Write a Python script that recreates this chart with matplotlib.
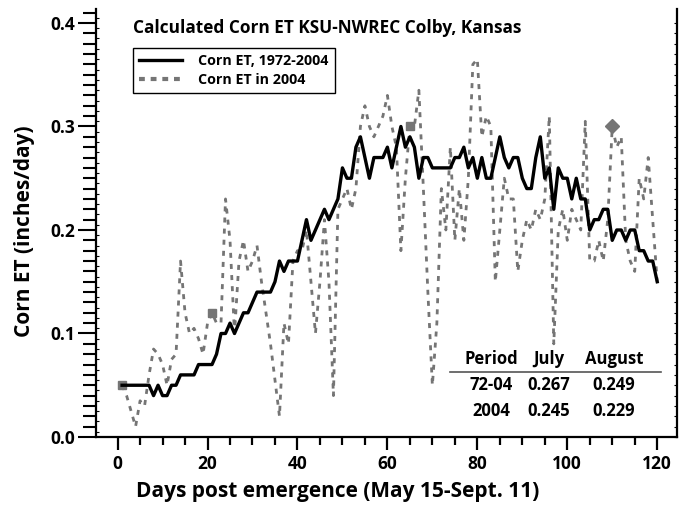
import matplotlib
matplotlib.use('Agg')
import matplotlib.pyplot as plt
from matplotlib.ticker import MultipleLocator
from matplotlib.lines import Line2D
import numpy as np

days = list(range(1, 121))

et_avg = [0.05, 0.05, 0.05, 0.05, 0.05, 0.05, 0.05, 0.04, 0.05, 0.04,
          0.04, 0.05, 0.05, 0.06, 0.06, 0.06, 0.06, 0.07, 0.07, 0.07,
          0.07, 0.08, 0.10, 0.10, 0.11, 0.10, 0.11, 0.12, 0.12, 0.13,
          0.14, 0.14, 0.14, 0.14, 0.15, 0.17, 0.16, 0.17, 0.17, 0.17,
          0.19, 0.21, 0.19, 0.20, 0.21, 0.22, 0.21, 0.22, 0.23, 0.26,
          0.25, 0.25, 0.28, 0.29, 0.27, 0.25, 0.27, 0.27, 0.27, 0.28,
          0.26, 0.28, 0.30, 0.28, 0.29, 0.28, 0.25, 0.27, 0.27, 0.26,
          0.26, 0.26, 0.26, 0.26, 0.27, 0.27, 0.28, 0.26, 0.27, 0.25,
          0.27, 0.25, 0.25, 0.27, 0.29, 0.27, 0.26, 0.27, 0.27, 0.25,
          0.24, 0.24, 0.27, 0.29, 0.25, 0.26, 0.22, 0.26, 0.25, 0.25,
          0.23, 0.25, 0.23, 0.23, 0.20, 0.21, 0.21, 0.22, 0.22, 0.19,
          0.20, 0.20, 0.19, 0.20, 0.20, 0.18, 0.18, 0.17, 0.17, 0.15]

et_2004 = [0.05, 0.04, 0.025, 0.01, 0.035, 0.03, 0.06, 0.085, 0.08, 0.07,
           0.05, 0.075, 0.08, 0.17, 0.12, 0.10, 0.105, 0.095, 0.08, 0.11,
           0.12, 0.11, 0.11, 0.23, 0.19, 0.10, 0.17, 0.19, 0.16, 0.17,
           0.185, 0.15, 0.12, 0.09, 0.055, 0.02, 0.11, 0.09, 0.17, 0.18,
           0.18, 0.20, 0.15, 0.10, 0.15, 0.21, 0.15, 0.04, 0.22, 0.23,
           0.24, 0.22, 0.24, 0.30, 0.32, 0.30, 0.29, 0.30, 0.31, 0.33,
           0.30, 0.28, 0.18, 0.25, 0.30, 0.30, 0.335, 0.24, 0.14, 0.05,
           0.11, 0.24, 0.20, 0.28, 0.19, 0.24, 0.19, 0.25, 0.36, 0.365,
           0.29, 0.31, 0.30, 0.15, 0.20, 0.25, 0.23, 0.23, 0.16, 0.19,
           0.21, 0.20, 0.22, 0.21, 0.23, 0.31, 0.09, 0.20, 0.22, 0.19,
           0.22, 0.21, 0.20, 0.305, 0.17, 0.17, 0.19, 0.17, 0.21, 0.30,
           0.28, 0.29, 0.19, 0.17, 0.16, 0.25, 0.23, 0.27, 0.21, 0.15]

square_idx = [0, 20, 64]
diamond_idx = [109]

table_header = ["Period", "July", "August"]
table_rows = [["72-04", "0.267", "0.249"],
              ["2004", "0.245", "0.229"]]

title = "Calculated Corn ET KSU-NWREC Colby, Kansas"
xlabel = "Days post emergence (May 15-Sept. 11)"
ylabel = "Corn ET (inches/day)"
legend_labels = ["Corn ET, 1972-2004", "Corn ET in 2004"]

plt.rcParams['font.family'] = ['Open Sans', 'DejaVu Sans']
plt.rcParams['font.weight'] = 'bold'

W, H = 688, 508
fig = plt.figure(figsize=(W / 100, H / 100), dpi=100)
L, R, B, T = 96, 677, 437, 9
ax = fig.add_axes([L / W, 1 - B / H, (R - L) / W, (B - T) / H])
ax.set_xlim(-4.8, 124.4)
ax.set_ylim(0, 0.4135)

gray = '#757575'
ax.plot(days, et_2004, color=gray, lw=2.0, dashes=(1.8, 2.2), zorder=2)
ax.plot(days, et_2004, ls='none', marker='s', ms=5.5, color=gray,
        markevery=square_idx, zorder=2)
ax.plot(days, et_2004, ls='none', marker='D', ms=7, color=gray,
        markevery=diamond_idx, zorder=2)
ax.plot(days, et_avg, color='black', lw=2.4, zorder=3)

ax.spines['top'].set_visible(False)
for s in ['left', 'bottom', 'right']:
    ax.spines[s].set_linewidth(1.6)

ax.xaxis.set_major_locator(MultipleLocator(20))
ax.xaxis.set_minor_locator(MultipleLocator(5))
ax.yaxis.set_major_locator(MultipleLocator(0.1))
ax.yaxis.set_minor_locator(MultipleLocator(0.01))
ax.tick_params(axis='x', which='major', direction='out', length=9, width=1.6,
               labelsize=12.5, pad=4)
ax.tick_params(axis='x', which='minor', direction='out', length=6, width=1.6)
ax.tick_params(axis='y', which='major', direction='out', length=13, width=1.5,
               labelsize=12.5, pad=2)
ax.tick_params(axis='y', which='minor', direction='out', length=9.5, width=1.5)
for lab in ax.get_xticklabels() + ax.get_yticklabels():
    lab.set_fontweight('bold')

sec_l = ax.secondary_yaxis('left')
sec_l.set_yticks(np.arange(0.005, 0.41, 0.01))
sec_l.tick_params(direction='in', length=2, width=0.8, labelleft=False)
sec_l.spines['left'].set_visible(False)
sec_r = ax.secondary_yaxis('right')
sec_r.set_yticks(np.arange(0.0, 0.41, 0.01))
sec_r.tick_params(direction='in', length=2.5, width=0.8, labelright=False)
sec_r.spines['right'].set_visible(False)

fig.text(133 / W, 1 - 28 / H, title, fontsize=12.4, fontweight='bold',
         ha='left', va='center')
fig.text(338 / W, 1 - 492 / H, xlabel, fontsize=15, fontweight='bold',
         ha='center', va='center')
fig.text(25 / W, 1 - 231 / H, ylabel, fontsize=15, fontweight='bold',
         ha='center', va='center', rotation=90)

handles = [Line2D([], [], color='black', lw=2.4),
           Line2D([], [], color=gray, lw=3.0, dashes=(1.4, 1.4))]
leg = ax.legend(handles, legend_labels, loc='upper left',
                bbox_to_anchor=(133 / W, 1 - 48 / H),
                bbox_transform=fig.transFigure, borderaxespad=0,
                prop={'weight': 'bold', 'size': 10.3}, fancybox=False,
                edgecolor='black', framealpha=1, handlelength=3.0,
                handletextpad=1.1, borderpad=0.45, labelspacing=0.3)
leg.get_frame().set_linewidth(1.0)

col_x = [491, 549, 614]
for x, t in zip(col_x, table_header):
    fig.text(x / W, 1 - 359 / H, t, fontsize=12, fontweight='bold',
             ha='center', va='center')
fig.add_artist(Line2D([450 / W, 661 / W], [1 - 372 / H, 1 - 372 / H],
                      color='#555555', lw=1.2, transform=fig.transFigure))
for ry, row in zip([385, 411], table_rows):
    for x, t in zip(col_x, row):
        fig.text(x / W, 1 - ry / H, t, fontsize=12, fontweight='bold',
                 ha='center', va='center')

fig.savefig('out.png', dpi=100)
